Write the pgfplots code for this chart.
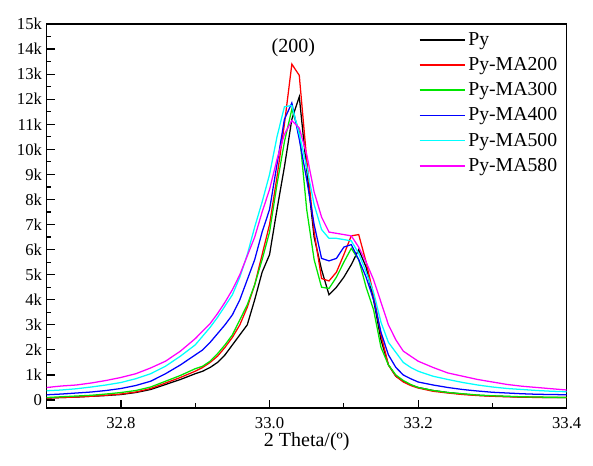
\documentclass[border=0pt]{standalone}
\usepackage{fontspec}
\setmainfont{Liberation Serif}
\usepackage{pgfplots}
\usepackage{pgfplotstable}
\pgfplotsset{compat=1.18}
\definecolor{pgreen}{RGB}{0,230,0}
\definecolor{pcyan}{RGB}{0,255,255}
\definecolor{pmag}{RGB}{255,0,255}
\pgfplotstableread{
x      Py     M200   M300   M400   M500   M580
32.70  80     80     100    210    370    500
32.72  100    100    130    240    400    560
32.74  120    120    160    280    450    600
32.76  150    150    190    320    520    680
32.78  180    190    240    380    600    780
32.80  220    240    300    460    700    900
32.82  300    320    380    580    850    1050
32.84  420    460    520    750    1050   1280
32.86  620    680    750    1050   1350   1550
32.88  820    900    980    1400   1750   1950
32.90  1050   1150   1250   1800   2200   2450
32.91  1150   1300   1350   2000   2550   2750
32.92  1300   1500   1550   2300   2900   3050
32.93  1500   1750   1850   2650   3300   3450
32.94  1800   2100   2200   3000   3750   3900
32.95  2200   2500   2600   3400   4200   4400
32.96  2600   3000   3200   4000   4900   5000
32.97  3000   3700   3800   4800   5800   5750
32.98  4000   4600   4600   5600   6900   6500
32.99  5100   5800   5600   6700   7900   7500
33.00  5800   7000   6700   7600   9000   8400
33.01  7600   8900   8600   9400   10500  9600
33.02  9300   11000  10300  11200  11700  10600
33.03  11200  13400  11600  11850  11750  11150
33.04  12100  12950  10700  10400  10600  10850
33.05  9200   9600   7600   8800   9300   9800
33.06  6500   6700   5600   7000   7800   8300
33.07  5200   4850   4500   5650   6800   7300
33.08  4200   4750   4450   5550   6450   6700
33.09  4500   5100   4900   5650   6450   6650
33.10  4900   5800   5500   6100   6400   6600
33.11  5400   6550   6050   6200   6350   6550
33.12  6000   6600   5600   5600   5850   6100
33.13  5300   5500   4500   4900   5100   5500
33.14  4000   4200   3600   4000   4300   4800
33.15  2400   2600   2100   2700   3100   3900
33.16  1400   1400   1400   1800   2300   3000
33.17  950    950    1000   1300   1900   2400
33.18  750    720    780    1000   1500   1950
33.19  600    580    620    850    1300   1750
33.20  500    480    500    720    1150   1550
33.22  380    350    380    600    950    1300
33.24  300    280    300    500    820    1080
33.26  240    220    250    420    700    950
33.28  190    180    200    360    600    820
33.30  160    150    170    310    520    720
33.32  140    130    150    280    460    620
33.34  120    120    130    250    420    550
33.36  110    100    120    230    380    500
33.38  100    100    110    220    350    450
33.40  100    100    100    210    330    400
}\datatable
\begin{document}
\begin{tikzpicture}
\begin{axis}[
  scale only axis,
  width=390pt, height=288pt,
  xmin=32.7, xmax=33.4,
  ymin=-320, ymax=15000,
  scaled y ticks=false,
  scaled x ticks=false,
  axis line style={line width=0.9pt},
  tick pos=left,
  tick align=inside,
  xtick={32.8,33.0,33.2,33.4},
  xticklabels={32.8,33.0,33.2,33.4},
  minor xtick={32.9,33.1,33.3},
  ytick={0,1000,...,15000},
  yticklabels={0,1k,2k,3k,4k,5k,6k,7k,8k,9k,10k,11k,12k,13k,14k,15k},
  minor ytick={500,1500,...,14500},
  major tick length=6pt,
  minor tick length=3.5pt,
  every tick/.style={line width=0.9pt, black},
  tick label style={font=\fontsize{12.5}{14}\selectfont},
  xticklabel style={yshift=-3.5pt},
  xlabel={2 Theta/(º)},
  xlabel style={font=\fontsize{15}{17}\selectfont, yshift=4pt},
  legend style={draw=none, fill=none, at={(1,1)}, anchor=north east,
    xshift=-4pt, yshift=-3pt,
    font=\fontsize{14.8}{17}\selectfont, row sep=3.6pt, inner sep=1pt},
  legend cell align=left,
  legend image code/.code={\draw[mark repeat=2,mark phase=2,#1,line width=1.2pt] plot coordinates {(0pt,0pt) (17pt,0pt) (34pt,0pt)};},
  every axis plot/.append style={line width=0.95pt, mark=none},
  clip=true,
]
\addplot[black] table[x=x, y=Py] {\datatable};
\addlegendentry{Py}
\addplot[red] table[x=x, y=M200] {\datatable};
\addlegendentry{Py-MA200}
\addplot[pgreen] table[x=x, y=M300] {\datatable};
\addlegendentry{Py-MA300}
\addplot[blue] table[x=x, y=M400] {\datatable};
\addlegendentry{Py-MA400}
\addplot[pcyan] table[x=x, y=M500] {\datatable};
\addlegendentry{Py-MA500}
\addplot[pmag] table[x=x, y=M580] {\datatable};
\addlegendentry{Py-MA580}
\node[font=\fontsize{15}{17}\selectfont] at (axis cs:33.032,14050) {(200)};
\end{axis}
\path (current axis.south west) ++(-35pt,-43pt);
\path (current axis.north east) ++(19.7pt,18pt);
\end{tikzpicture}
\end{document}
